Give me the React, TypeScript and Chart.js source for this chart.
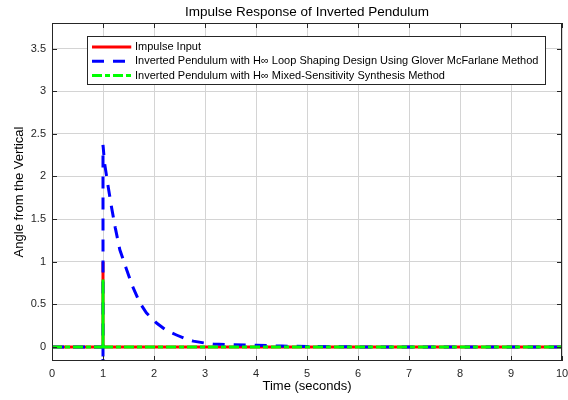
import { useEffect, useRef } from "react";
import { Chart, registerables } from "chart.js";

Chart.register(...registerables);

const chartTitle = "Impulse Response of Inverted Pendulum";
const xAxisTitle = "Time (seconds)";
const yAxisTitle = "Angle from the Vertical";

const xTicks = [0, 1, 2, 3, 4, 5, 6, 7, 8, 9, 10];
const yTicks = [0, 0.5, 1, 1.5, 2, 2.5, 3, 3.5];

const seriesLabels = [
  "Impulse Input",
  "Inverted Pendulum with H\u221E Loop Shaping Design Using Glover McFarlane Method",
  "Inverted Pendulum with H\u221E Mixed-Sensitivity Synthesis Method",
];

const impulseTime = [0, 1, 1, 1, 10];
const impulseValue = [0, 0, 1, 0, 0];

const gloverTime = [
  0, 1, 1, 1, 1.03, 1.1, 1.17, 1.24, 1.33, 1.45, 1.58, 1.72, 1.85, 2.05, 2.25,
  2.44, 2.6, 2.77, 3.0, 3.16, 3.5, 4.0, 4.5, 5.0, 6.0, 10,
];
const gloverValue = [
  0, 0, -0.25, 2.37, 2.16, 1.885, 1.63, 1.4, 1.14, 0.93, 0.71, 0.52, 0.4, 0.28,
  0.19, 0.14, 0.1, 0.068, 0.045, 0.035, 0.027, 0.02, 0.01, 0.005, 0, 0,
];

const mixedTime = [0, 1, 1, 1, 10];
const mixedValue = [0, 0, 0.79, 0, 0];

const FONT = "'Liberation Sans', Arial, Helvetica, sans-serif";
const AXIS_COLOR = "#262626";
const GRID_COLOR = "#d4d4d4";

const seriesColors = ["#ff0000", "#0000ff", "#00ff00"];
const seriesDash = [[], [12, 9], [10, 3, 5, 3]];

const toPoints = (xs: number[], ys: number[]) => xs.map((x, i) => ({ x, y: ys[i] }));

const overlayPlugin = {
  id: "overlay",
  afterDatasetsDraw(chart: any) {
    const { ctx, chartArea: a, scales } = chart;
    ctx.save();
    ctx.strokeStyle = AXIS_COLOR;
    ctx.lineWidth = 1;
    ctx.setLineDash([]);
    ctx.strokeRect(
      Math.round(a.left) + 0.5,
      Math.round(a.top) + 0.5,
      Math.round(a.right) - Math.round(a.left) - 1,
      Math.round(a.bottom) - Math.round(a.top) - 1
    );
    const tl = 5;
    ctx.beginPath();
    xTicks.forEach((v) => {
      const px = Math.round(scales.x.getPixelForValue(v)) + 0.5;
      ctx.moveTo(px, a.bottom);
      ctx.lineTo(px, a.bottom - tl);
      ctx.moveTo(px, a.top);
      ctx.lineTo(px, a.top + tl);
    });
    yTicks.forEach((v) => {
      const py = Math.round(scales.y.getPixelForValue(v)) + 0.5;
      ctx.moveTo(a.left, py);
      ctx.lineTo(a.left + tl, py);
      ctx.moveTo(a.right, py);
      ctx.lineTo(a.right - tl, py);
    });
    ctx.stroke();

    ctx.font = `11px ${FONT}`;
    const textW = Math.max(...seriesLabels.map((s) => ctx.measureText(s).width));
    const bx = Math.round(a.left + 35) + 0.5;
    const by = Math.round(a.top + 13) + 0.5;
    const bw = Math.round(48 + textW + 7);
    const rowH = 14.3;
    const bh = 48;
    ctx.fillStyle = "#ffffff";
    ctx.fillRect(bx, by, bw, bh);
    ctx.strokeStyle = AXIS_COLOR;
    ctx.lineWidth = 1;
    ctx.strokeRect(bx, by, bw, bh);
    seriesLabels.forEach((label, i) => {
      const cy = by + 10.5 + i * rowH;
      ctx.save();
      ctx.beginPath();
      ctx.rect(bx + 4, cy - 3, 40, 6);
      ctx.clip();
      ctx.strokeStyle = seriesColors[i];
      ctx.lineWidth = 3;
      ctx.setLineDash(seriesDash[i]);
      ctx.beginPath();
      ctx.moveTo(bx + 4.5, cy);
      ctx.lineTo(bx + 44, cy);
      ctx.stroke();
      ctx.restore();
      ctx.fillStyle = "#000000";
      ctx.textBaseline = "middle";
      ctx.textAlign = "left";
      ctx.fillText(label, bx + 47.5, cy);
    });

    ctx.font = `13.5px ${FONT}`;
    ctx.fillStyle = "#000000";
    ctx.textAlign = "center";
    ctx.textBaseline = "middle";
    ctx.fillText(chartTitle, (a.left + a.right) / 2, 12);
    ctx.restore();
  },
};

export default function App() {
  const canvasRef = useRef<HTMLCanvasElement | null>(null);

  useEffect(() => {
    document.body.style.margin = "0";
    const canvas = canvasRef.current;
    if (!canvas) return;
    const datasets = [
      { times: impulseTime, values: impulseValue },
      { times: gloverTime, values: gloverValue },
      { times: mixedTime, values: mixedValue },
    ].map((s, i) => ({
      label: seriesLabels[i],
      data: toPoints(s.times, s.values),
      borderColor: seriesColors[i],
      backgroundColor: seriesColors[i],
      borderWidth: 3,
      borderDash: seriesDash[i],
      borderCapStyle: "butt" as const,
      pointRadius: 0,
      tension: 0,
      fill: false,
      order: 3 - i,
      clip: 0,
      segment:
        i === 2
          ? {
              borderDash: (c: any) =>
                Math.abs(c.p0.x - c.p1.x) < 0.5 ? [] : seriesDash[2],
            }
          : undefined,
    }));

    const chart = new Chart(canvas, {
      type: "line",
      data: { datasets },
      plugins: [overlayPlugin],
      options: {
        animation: false,
        responsive: false,
        devicePixelRatio: 1,
        layout: { padding: { top: 23, right: 6, left: 0, bottom: 0 } },
        plugins: {
          legend: { display: false },
          tooltip: { enabled: false },
          title: { display: false },
        },
        scales: {
          x: {
            type: "linear",
            min: 0,
            max: 10,
            afterBuildTicks: (scale: any) => {
              scale.ticks = xTicks.map((v) => ({ value: v }));
            },
            afterFit: (scale: any) => {
              scale.height = 39;
              scale.paddingLeft = 0;
              scale.paddingRight = 0;
            },
            ticks: {
              font: { family: FONT, size: 11 },
              color: AXIS_COLOR,
              padding: 6,
              maxRotation: 0,
              autoSkip: false,
              callback: (v: any) => String(v),
            },
            grid: { color: GRID_COLOR, drawTicks: false, lineWidth: 1 },
            border: { display: false },
            title: {
              display: true,
              text: xAxisTitle,
              font: { family: FONT, size: 13 },
              color: "#000000",
              padding: { top: 3, bottom: 6 },
            },
          },
          y: {
            type: "linear",
            min: -0.165,
            max: 3.8,
            afterBuildTicks: (scale: any) => {
              scale.ticks = yTicks.map((v) => ({ value: v }));
            },
            afterFit: (scale: any) => {
              scale.width = 52;
              scale.paddingTop = 0;
              scale.paddingBottom = 0;
            },
            ticks: {
              font: { family: FONT, size: 11 },
              color: AXIS_COLOR,
              padding: 6,
              autoSkip: false,
              callback: (v: any) => String(v),
            },
            grid: { color: GRID_COLOR, drawTicks: false, lineWidth: 1 },
            border: { display: false },
            title: {
              display: true,
              text: yAxisTitle,
              font: { family: FONT, size: 13 },
              color: "#000000",
              padding: { top: 12, bottom: 0 },
            },
          },
        },
      },
    });
    return () => chart.destroy();
  }, []);

  return (
    <div style={{ width: 568, height: 400, background: "#ffffff" }}>
      <canvas ref={canvasRef} width={568} height={400} style={{ display: "block" }} />
    </div>
  );
}
